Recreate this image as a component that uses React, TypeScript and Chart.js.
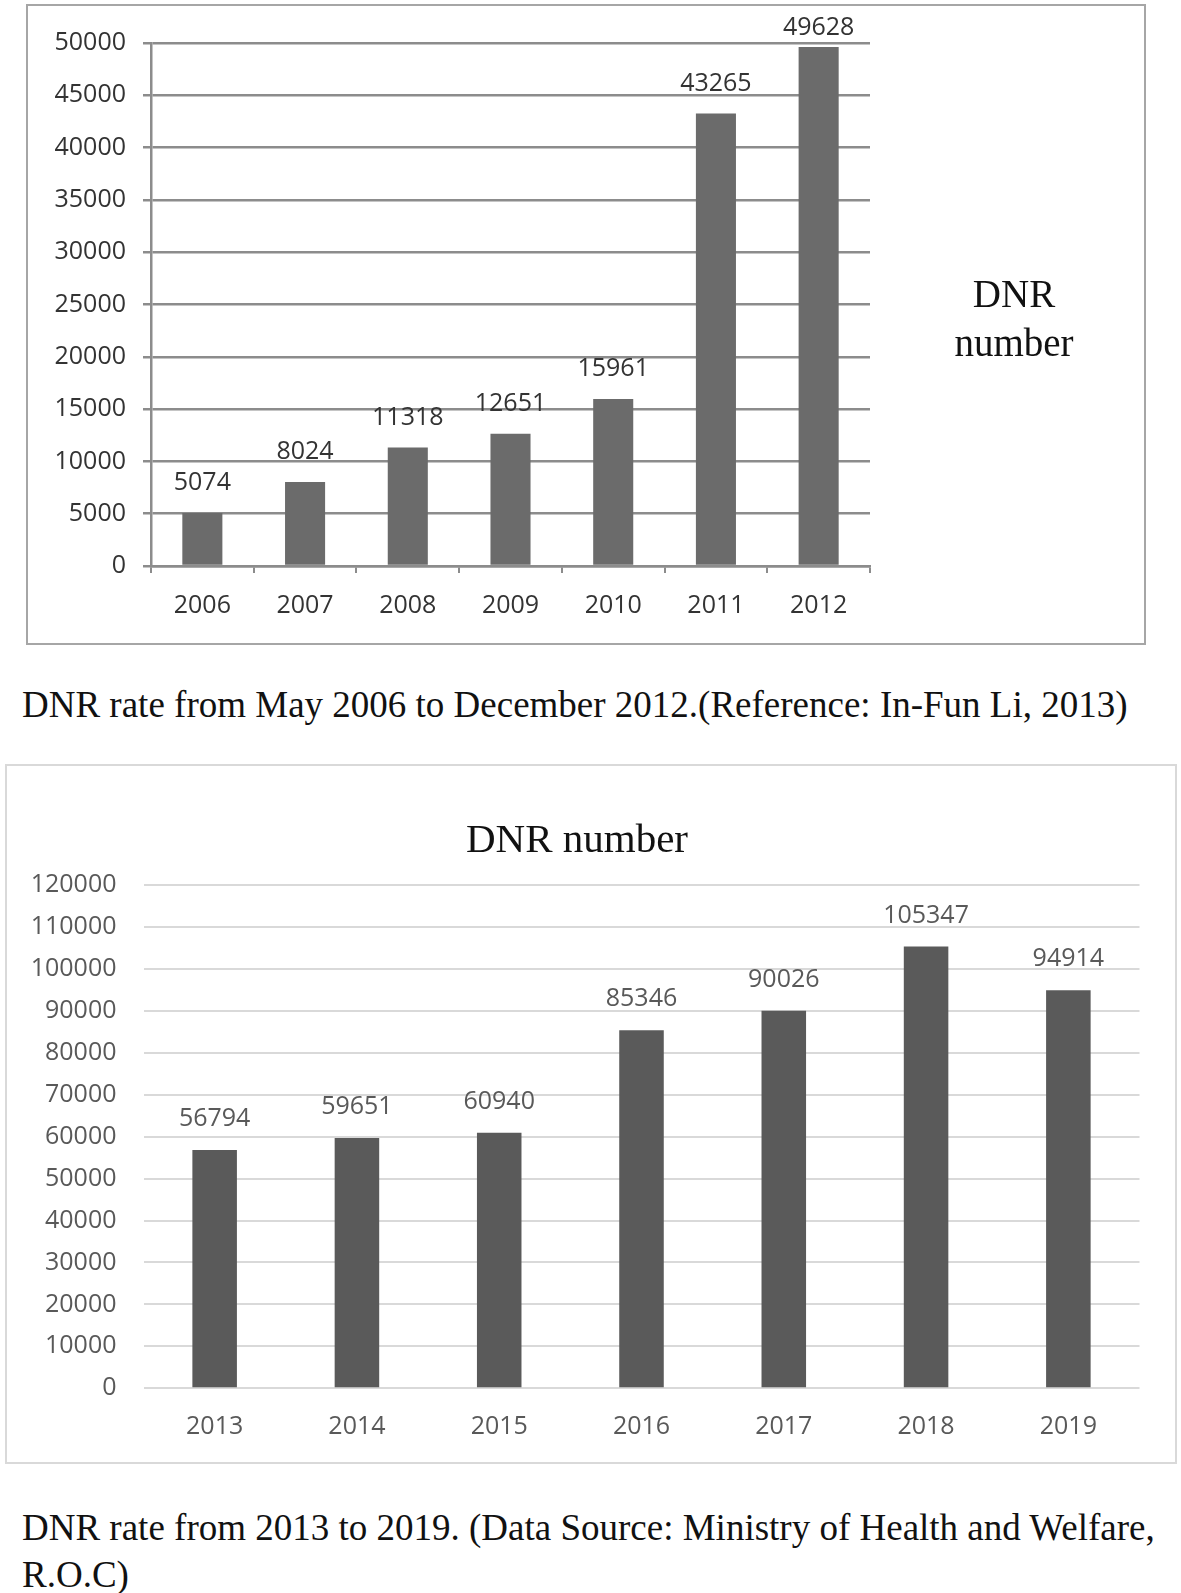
import React, { useEffect, useRef } from "react";
import { Chart, registerables } from "chart.js";

Chart.register(...registerables);

// ---- data ----
const years1 = ["2006", "2007", "2008", "2009", "2010", "2011", "2012"];
const dnr1 = [5074, 8024, 11318, 12651, 15961, 43265, 49628];
const yMax1 = 50000;
const yStep1 = 5000;

const years2 = ["2013", "2014", "2015", "2016", "2017", "2018", "2019"];
const dnr2 = [56794, 59651, 60940, 85346, 90026, 105347, 94914];
const yMax2 = 120000;
const yStep2 = 10000;

const sideLabel1 = ["DNR", "number"];
const title2 = "DNR number";
const caption1 = "DNR rate from May 2006 to December 2012.(Reference: In-Fun Li, 2013)";
const caption2 = ["DNR rate from 2013 to 2019. (Data Source: Ministry of Health and Welfare,", "R.O.C)"];

const SANS = "'Open Sans', 'Noto Sans', sans-serif";
const SERIF = "'Liberation Serif', 'Times New Roman', serif";

const plainNumber = (v: any) => String(v);

const valueLabels = {
  id: "valueLabels",
  afterDatasetsDraw(chart: any, _args: any, opts: any) {
    const { ctx } = chart;
    const meta = chart.getDatasetMeta(0);
    const data = chart.data.datasets[0].data as number[];
    ctx.save();
    ctx.font = opts.font;
    ctx.fillStyle = opts.color;
    ctx.textAlign = "center";
    ctx.textBaseline = "middle";
    meta.data.forEach((el: any, i: number) => {
      let y = el.y - opts.offset;
      if (typeof opts.minY === "number") y = Math.max(y, opts.minY);
      ctx.fillText(String(data[i]), el.x, y);
    });
    ctx.restore();
  },
};

function ChartOne() {
  const ref = useRef<HTMLCanvasElement>(null);
  useEffect(() => {
    const H = 660;
    const chart = new Chart(ref.current!, {
      type: "bar",
      data: {
        labels: years1,
        datasets: [
          {
            data: dnr1,
            backgroundColor: "#6b6b6b",
            barPercentage: 0.39,
            categoryPercentage: 1,
          },
        ],
      },
      plugins: [valueLabels as any],
      options: {
        animation: false,
        responsive: false,
        maintainAspectRatio: false,
        layout: { padding: { left: 0, right: 311, top: 43, bottom: 0 } },
        plugins: {
          legend: { display: false },
          tooltip: { enabled: false },
          title: { display: false },
          valueLabels: { font: `25px ${SANS}`, color: "#333333", offset: 30, minY: 28 },
        } as any,
        scales: {
          x: {
            grid: {
              display: true,
              drawOnChartArea: false,
              drawTicks: true,
              tickLength: 7,
              color: "#8c8c8c",
              lineWidth: 2,
              offset: true,
            },
            border: { display: true, color: "#8c8c8c", width: 2.5 },
            ticks: { font: { family: SANS, size: 25 }, color: "#333333", padding: 18, maxRotation: 0 },
            afterFit: (s: any) => {
              s.height = H - 566;
            },
          },
          y: {
            min: 0,
            max: yMax1,
            ticks: {
              stepSize: yStep1,
              font: { family: SANS, size: 25 },
              color: "#333333",
              padding: 17,
              callback: plainNumber,
            },
            grid: { color: "#8c8c8c", lineWidth: 2.5, tickLength: 8, drawTicks: true },
            border: { display: true, color: "#8c8c8c", width: 2.5 },
            afterFit: (s: any) => {
              s.width = 151;
            },
          },
        },
      },
    });
    return () => chart.destroy();
  }, []);
  return (
    <canvas
      ref={ref}
      width={1181}
      height={660}
      style={{ position: "absolute", left: 0, top: 0, width: 1181, height: 660 }}
    />
  );
}

function ChartTwo() {
  const ref = useRef<HTMLCanvasElement>(null);
  useEffect(() => {
    const H = 720;
    const chart = new Chart(ref.current!, {
      type: "bar",
      data: {
        labels: years2,
        datasets: [
          {
            data: dnr2,
            backgroundColor: "#5a5a5a",
            barPercentage: 0.313,
            categoryPercentage: 1,
          },
        ],
      },
      plugins: [valueLabels as any],
      options: {
        animation: false,
        responsive: false,
        maintainAspectRatio: false,
        layout: { padding: { left: 0, right: 41.5, top: 125, bottom: 0 } },
        plugins: {
          legend: { display: false },
          tooltip: { enabled: false },
          title: { display: false },
          valueLabels: { font: `25px ${SANS}`, color: "#595959", offset: 31 },
        } as any,
        scales: {
          x: {
            grid: { display: false, drawTicks: false },
            border: { display: false },
            ticks: { font: { family: SANS, size: 25 }, color: "#595959", padding: 24, maxRotation: 0 },
            afterFit: (s: any) => {
              s.height = H - 628.3;
            },
          },
          y: {
            min: 0,
            max: yMax2,
            ticks: {
              stepSize: yStep2,
              font: { family: SANS, size: 25 },
              color: "#595959",
              padding: 27,
              callback: plainNumber,
            },
            grid: { color: "#d9d9d9", lineWidth: 2, drawTicks: false, tickLength: 0 },
            border: { display: false },
            afterFit: (s: any) => {
              s.width = 143.5;
            },
          },
        },
      },
    });
    return () => chart.destroy();
  }, []);
  return (
    <canvas
      ref={ref}
      width={1181}
      height={720}
      style={{ position: "absolute", left: 0, top: 760, width: 1181, height: 720 }}
    />
  );
}

const serifText = (size: number): React.CSSProperties => ({
  position: "absolute",
  fontFamily: SERIF,
  fontSize: size,
  lineHeight: 1,
  color: "#111",
  whiteSpace: "nowrap",
  margin: 0,
});

export default function App() {
  return (
    <div
      style={{
        position: "absolute",
        left: 0,
        top: 0,
        width: 1181,
        height: 1593,
        background: "#ffffff",
        overflow: "hidden",
      }}
    >
      {/* frame chart 1 */}
      <div
        style={{
          position: "absolute",
          left: 26,
          top: 4,
          width: 1146 - 26,
          height: 645 - 4,
          border: "2px solid #a6a6a6",
          boxSizing: "border-box",
        }}
      />
      <ChartOne />
      <div style={{ ...serifText(39), left: 914, top: 274, width: 200, textAlign: "center" }}>{sideLabel1[0]}</div>
      <div style={{ ...serifText(39), left: 914, top: 323, width: 200, textAlign: "center" }}>{sideLabel1[1]}</div>
      <div style={{ ...serifText(37), left: 22, top: 686 }}>{caption1}</div>

      {/* frame chart 2 */}
      <div
        style={{
          position: "absolute",
          left: 5,
          top: 764,
          width: 1177 - 5,
          height: 1464 - 764,
          border: "2px solid #d9d9d9",
          boxSizing: "border-box",
        }}
      />
      <ChartTwo />
      <div style={{ ...serifText(41), left: 377, top: 818, width: 400, textAlign: "center" }}>{title2}</div>
      <div style={{ ...serifText(37), left: 22, top: 1509 }}>{caption2[0]}</div>
      <div style={{ ...serifText(37), left: 22, top: 1556 }}>{caption2[1]}</div>
    </div>
  );
}
